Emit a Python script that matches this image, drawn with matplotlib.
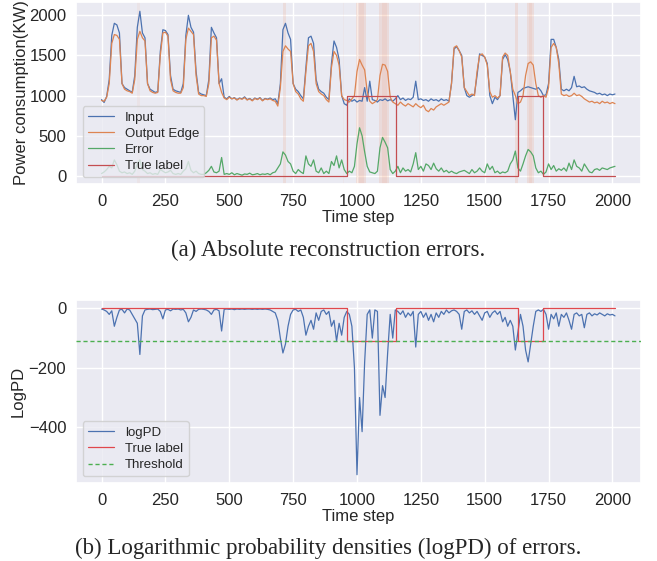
import numpy as np
import matplotlib
matplotlib.use("Agg")
import matplotlib.pyplot as plt
import seaborn as sns

# ---------------- data (sampled every 10 time steps) ----------------
time_step = np.arange(0, 2020, 10)

input_kw = [950, 915, 990, 1200, 1750, 1900, 1880, 1780, 1150, 1100,
            1080, 1060, 1040, 1250, 1850, 2050, 1780, 1720, 1150, 1080,
            1060, 1040, 1050, 1550, 1820, 1810, 1760, 1250, 1080, 1060,
            1050, 1040, 1150, 1750, 2000, 1850, 1790, 1300, 1040, 1020,
            1010, 1000, 1200, 1850, 1780, 1720, 1150, 1210, 980, 960,
            990, 960, 975, 950, 970, 960, 985, 950, 965, 940,
            970, 955, 975, 940, 965, 955, 970, 950, 960, 900,
            1150, 1820, 1900, 1780, 1700, 1150, 1080, 1050, 1000, 960,
            1350, 1720, 1740, 1650, 1200, 1080, 1050, 1030, 980, 950,
            1400, 1680, 1600, 1450, 1000, 900, 880, 960, 930, 950,
            920, 940, 930, 1100, 930, 1180, 950, 940, 920, 950,
            940, 960, 935, 950, 930, 960, 1000, 950, 970, 940,
            960, 950, 980, 1180, 950, 960, 940, 950, 930, 960,
            940, 950, 930, 960, 940, 950, 930, 1150, 1580, 1610,
            1560, 1500, 1100, 1000, 980, 1000, 1020, 1250, 1520, 1500,
            1480, 1400, 1000, 900, 980, 950, 1000, 1450, 1510, 1450,
            1300, 1000, 700, 1040, 1060, 1090, 1100, 1110, 1100, 1090,
            1080, 1100, 1060, 1000, 1010, 1150, 1700, 1700, 1600, 1450,
            1080, 1060, 1080, 1060, 1100, 1240, 1110, 1120, 1100, 1110,
            1080, 1060, 1050, 1040, 1020, 1030, 1010, 1020, 1000, 1020,
            1010, 1020]

output_edge = [940, 930, 980, 1150, 1650, 1760, 1750, 1700, 1150, 1080,
               1060, 1050, 1030, 1200, 1700, 1800, 1720, 1680, 1150, 1060,
               1040, 1030, 1040, 1500, 1780, 1790, 1740, 1200, 1060, 1040,
               1030, 1030, 1100, 1700, 1840, 1800, 1760, 1250, 1020, 1000,
               1000, 990, 1150, 1720, 1740, 1690, 1150, 1040, 970, 950,
               980, 960, 970, 945, 965, 955, 975, 945, 960, 935,
               965, 950, 970, 935, 960, 950, 960, 940, 930, 870,
               1100, 1550, 1620, 1580, 1550, 1150, 1050, 1020, 960, 930,
               1300, 1620, 1650, 1550, 1150, 1050, 1020, 1000, 950, 920,
               1350, 1550, 1500, 1380, 1000, 950, 940, 920, 960, 1000,
               1300, 1450, 1380, 1320, 1050, 930, 900, 920, 950, 1250,
               1390, 1380, 1300, 980, 920, 900, 880, 920, 890, 870,
               900, 880, 860, 900, 870, 850, 880, 820, 800, 840,
               820, 860, 880, 900, 880, 900, 920, 1150, 1600, 1620,
               1560, 1480, 1100, 1050, 1000, 1020, 1000, 1300, 1500, 1520,
               1480, 1380, 1050, 980, 1000, 970, 1000, 1480, 1530, 1500,
               1300, 1080, 1000, 900, 920, 1000, 1250, 1400, 1420, 1380,
               1150, 1000, 980, 1000, 980, 1100, 1600, 1650, 1600, 1400,
               1020, 1000, 1010, 990, 1000, 1030, 1000, 1010, 990, 960,
               940, 920, 930, 910, 920, 900, 930, 910, 920, 900,
               915, 900]

error = [30, 50, 80, 120, 100, 200, 140, 60, 40, 50,
         30, 40, 20, 60, 150, 200, 80, 60, 30, 40,
         20, 30, 20, 80, 60, 40, 50, 70, 30, 20,
         30, 20, 60, 90, 180, 70, 40, 60, 30, 20,
         20, 40, 70, 120, 50, 40, 60, 230, 20, 30,
         20, 40, 15, 30, 20, 10, 25, 20, 35, 15,
         20, 30, 15, 25, 20, 30, 15, 40, 50, 100,
         150, 300, 260, 180, 150, 60, 30, 80, 50, 30,
         250, 150, 120, 200, 60, 40, 100, 30, 60, 30,
         180, 130, 250, 100, 200, 80, 30, 60, 40, 120,
         400, 600, 500, 300, 120, 50, 40, 30, 60, 350,
         480, 420, 350, 80, 30, 60, 120, 40, 100, 60,
         80, 50, 150, 290, 80, 120, 60, 150, 130, 80,
         160, 90, 60, 100, 50, 70, 40, 60, 40, 30,
         50, 60, 70, 50, 30, 80, 40, 60, 100, 60,
         40, 150, 80, 120, 40, 60, 30, 50, 40, 60,
         150, 200, 310, 100, 60, 150, 250, 330, 300, 250,
         100, 40, 60, 20, 50, 150, 80, 130, 60, 90,
         70, 100, 60, 160, 80, 200, 120, 100, 60, 150,
         100, 50, 40, 80, 90, 70, 100, 90, 80, 100,
         110, 120]

log_pd = [-2, -5, -10, -20, -8, -60, -30, -5, -3, -15,
          -2, -5, -20, -35, -50, -155, -25, -5, -3, -2,
          -4, -3, -2, -10, -35, -5, -3, -8, -2, -3,
          -2, -5, -3, -15, -45, -30, -5, -10, -3, -2,
          -3, -5, -10, -20, -5, -3, -8, -76, -3, -2,
          -3, -2, -4, -2, -3, -2, -3, -2, -2, -3,
          -2, -3, -2, -3, -2, -3, -5, -10, -15, -40,
          -100, -150, -120, -60, -20, -5, -3, -10, -5, -30,
          -90, -60, -40, -70, -15, -40, -10, -5, -20, -10,
          -60, -40, -110, -50, -90, -30, -10, -20, -60, -200,
          -560, -300, -415, -180, -20, -5, -100, -5, -10, -360,
          -260, -300, -150, -20, -100, -5, -10, -20, -8, -30,
          -15, -25, -10, -130, -20, -10, -30, -15, -40, -20,
          -45, -15, -30, -10, -20, -5, -15, -8, -5, -10,
          -20, -70, -10, -5, -15, -8, -20, -10, -25, -40,
          -15, -10, -30, -15, -8, -20, -10, -45, -30, -60,
          -40, -60, -140, -80, -20, -60, -140, -180, -120, -60,
          -10, -5, -10, -3, -20, -70, -20, -35, -15, -60,
          -20, -30, -15, -40, -70, -20, -15, -25, -20, -65,
          -20, -15, -25, -18, -22, -15, -20, -25, -18, -22,
          -20, -25]

anomaly_intervals = [(962, 1154), (1631, 1727)]
label_high = 1000
threshold = -110

# highlighted (detected) regions: (start, end, alpha)
highlight_spans = [(140, 150, 0.07), (710, 722, 0.14), (944, 950, 0.05),
                   (998, 1034, 0.16), (1006, 1026, 0.10),
                   (1088, 1124, 0.16), (1096, 1116, 0.10),
                   (1242, 1248, 0.05), (1618, 1630, 0.16),
                   (1666, 1694, 0.15), (1674, 1686, 0.10)]

# ---------------- derived step label ----------------
def label_step(high):
    xs, ys = [0], [0]
    for a, b in anomaly_intervals:
        xs += [a, a, b, b]
        ys += [0, high, high, 0]
    xs.append(time_step[-1])
    ys.append(0)
    return xs, ys

sns.set_theme(style="darkgrid")
plt.rcParams['font.family'] = ['Liberation Sans', 'DejaVu Sans']

blue, orange, green, red = sns.color_palette("deep")[:4]
span_color = "#F08A5D"

fig = plt.figure(figsize=(6.57, 5.61), dpi=100)
ax1 = fig.add_axes([0.1157, 0.672, 0.86, 0.3244])
ax2 = fig.add_axes([0.1157, 0.139, 0.86, 0.326])

for a, b, al in highlight_spans:
    ax1.axvspan(a, b, color=span_color, alpha=al, lw=0, zorder=1)

ax1.plot(time_step, input_kw, color=blue, lw=0.9, label="Input", zorder=3)
ax1.plot(time_step, output_edge, color=orange, lw=0.9, label="Output Edge", zorder=3)
ax1.plot(time_step, error, color=green, lw=0.9, label="Error", zorder=3)
lx, ly = label_step(label_high)
ax1.plot(lx, ly, color=red, lw=0.9, label="True label", zorder=3)
ax1.set_xlim(-100, 2112)
ax1.set_ylim(-100, 2165)
ax1.set_xticks(np.arange(0, 2001, 250))
ax1.set_yticks([0, 500, 1000, 1500, 2000])
ax1.set_xlabel("Time step", fontsize=12, labelpad=1)
ax1.set_ylabel("Power consumption(KW)", fontsize=12, labelpad=0)
ax1.tick_params(labelsize=12, pad=1)
ax1.legend(loc="lower left", fontsize=9.5, handlelength=2.0,
           labelspacing=0.3, borderaxespad=0.5)

ax2.plot(time_step, log_pd, color=blue, lw=0.9, label="logPD", zorder=3)
lx2, ly2 = label_step(threshold)
ax2.plot(lx2, ly2, color="#E0474C", lw=0.9, label="True label", zorder=3)
ax2.axhline(threshold, color="#4CAF50", lw=1.0, ls=(0, (3, 2)),
            label="Threshold", zorder=3)
ax2.set_xlim(-100, 2112)
ax2.set_ylim(-588, 28)
ax2.set_xticks(np.arange(0, 2001, 250))
ax2.set_yticks([-400, -200, 0])
ax2.set_yticklabels(["\u2212400", "\u2212200", "0"])
ax2.set_xlabel("Time step", fontsize=12, labelpad=1)
ax2.set_ylabel("LogPD", fontsize=12, labelpad=2)
ax2.tick_params(labelsize=12, pad=1)
ax2.legend(loc="lower left", fontsize=9.5, handlelength=2.0,
           labelspacing=0.3, borderaxespad=0.5)

fig.text(0.5, 1 - 250 / 561, "(a) Absolute reconstruction errors.",
         ha="center", va="center", fontsize=16.5, family="Liberation Serif")
fig.text(0.5, 1 - 548 / 561, "(b) Logarithmic probability densities (logPD) of errors.",
         ha="center", va="center", fontsize=16.5, family="Liberation Serif")

fig.savefig("out.png", dpi=100)
